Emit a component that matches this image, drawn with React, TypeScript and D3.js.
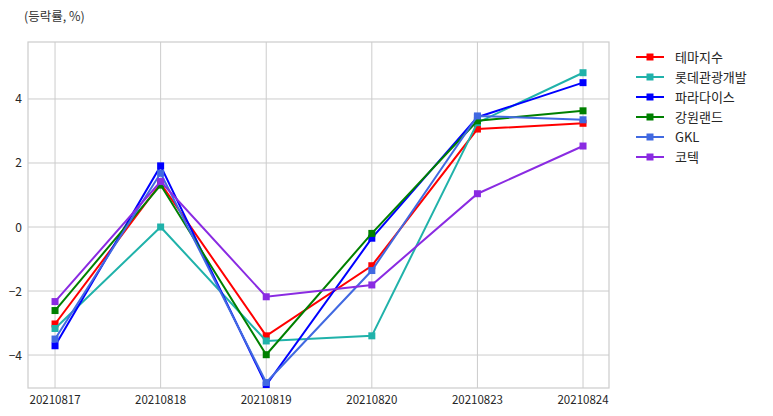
import React from 'react';
import * as d3 from 'd3';

const dates = ['20210817', '20210818', '20210819', '20210820', '20210823', '20210824'];
const names = ['테마지수', '롯데관광개발', '파라다이스', '강원랜드', 'GKL', '코텍'];
const colors = ['#ff0000', '#20b2aa', '#0000ff', '#008000', '#4169e1', '#8a2be2'];

const themeIdx = [-3.03, 1.36, -3.4, -1.21, 3.06, 3.24];
const lotte = [-3.17, 0.0, -3.56, -3.4, 3.26, 4.82];
const paradise = [-3.71, 1.91, -4.94, -0.35, 3.43, 4.51];
const kangwon = [-2.61, 1.31, -3.99, -0.2, 3.32, 3.63];
const gkl = [-3.5, 1.68, -4.86, -1.36, 3.47, 3.35];
const kotek = [-2.33, 1.42, -2.18, -1.81, 1.04, 2.53];

const series = [themeIdx, lotte, paradise, kangwon, gkl, kotek];
const yTicks = [-4, -2, 0, 2, 4];

const W = 773;
const H = 416;
const left = 28;
const right = 609;
const top = 42;
const bottom = 388;
const font = '"Noto Sans CJK KR", "Noto Sans", sans-serif';

const App: React.FC = () => {
  const x = d3.scaleLinear().domain([-0.256, 5.246]).range([left, right]);
  const y = d3.scaleLinear().domain([-5.03, 5.78]).range([bottom, top]);
  const line = d3.line<number>()
    .x((_, i) => x(i))
    .y(d => y(d));

  return (
    <svg width={W} height={H} style={{ position: 'absolute', left: 0, top: 0 }} fontFamily={font}>
      <rect width={W} height={H} fill="#fff" />
      <text x={24} y={20.5} fontSize={12.5} fill="#333">(등락률, %)</text>
      <defs>
        <clipPath id="plot">
          <rect x={left} y={top} width={right - left} height={bottom - top} />
        </clipPath>
      </defs>
      {dates.map((d, i) => (
        <g key={d}>
          <line x1={x(i)} x2={x(i)} y1={top} y2={bottom} stroke="#cccccc" strokeWidth={1} />
          <text x={x(i)} y={404} fontSize={11.5} fill="#262626" textAnchor="middle">{d}</text>
        </g>
      ))}
      {yTicks.map(t => (
        <g key={t}>
          <line x1={left} x2={right} y1={y(t)} y2={y(t)} stroke="#cccccc" strokeWidth={1} />
          <text x={22} y={y(t) + 4.5} fontSize={12} fill="#262626" textAnchor="end">
            {t < 0 ? '\u2212' + Math.abs(t) : t}
          </text>
        </g>
      ))}
      <rect x={left} y={top} width={right - left} height={bottom - top} fill="none" stroke="#cccccc" strokeWidth={1.2} />
      <g clipPath="url(#plot)">
        {series.map((s, k) => (
          <g key={names[k]}>
            <path d={line(s) || ''} fill="none" stroke={colors[k]} strokeWidth={2} />
            {s.map((v, i) => (
              <rect key={i} x={x(i) - 3.5} y={y(v) - 3.5} width={7} height={7} fill={colors[k]} />
            ))}
          </g>
        ))}
      </g>
      {names.map((n, k) => {
        const ly = 57 + k * 20;
        return (
          <g key={n}>
            <line x1={636} x2={664} y1={ly} y2={ly} stroke={colors[k]} strokeWidth={2} />
            <rect x={646.5} y={ly - 3.5} width={7} height={7} fill={colors[k]} />
            <text x={675} y={ly + 5} fontSize={13} fill="#262626">{n}</text>
          </g>
        );
      })}
    </svg>
  );
};

export default App;
